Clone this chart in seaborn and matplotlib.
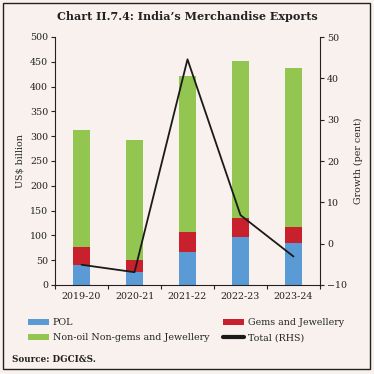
import matplotlib
matplotlib.use("Agg")
import matplotlib.pyplot as plt
import seaborn as sns
import numpy as np
import pandas as pd
from matplotlib.patches import Patch, Rectangle
from matplotlib.lines import Line2D
from matplotlib.ticker import MultipleLocator, FixedLocator

years = ["2019-20", "2020-21", "2021-22", "2022-23", "2023-24"]
pol = [41.3, 25.8, 67.5, 97.5, 84.2]
gems = [35.8, 25.4, 39.1, 38.0, 32.7]
non_oil = [235.9, 240.6, 315.4, 315.5, 320.1]
growth = [-5.1, -6.9, 44.6, 6.9, -3.1]

labels = ["POL", "Non-oil Non-gems and Jewellery", "Gems and Jewellery", "Total (RHS)"]
c_blue = "#5b9bd5"
c_red = "#c9202e"
c_green = "#92c650"
bg = "#f8f1ed"

sns.set_theme(style="white")
plt.rcParams["font.family"] = ["DejaVu Serif"]

df = pd.DataFrame({"year": years, "pol": pol, "gems": gems, "non_oil": non_oil, "growth": growth})
df["c1"] = df["pol"]
df["c2"] = df["pol"] + df["gems"]
df["c3"] = df["c2"] + df["non_oil"]

fig = plt.figure(figsize=(3.74, 3.74), dpi=100, facecolor=bg)
ax = fig.add_axes([55/374, 1-285/374, 265/374, 248/374])
ax.set_facecolor(bg)

bw = 0.32
for col, c in (("c3", c_green), ("c2", c_red), ("c1", c_blue)):
    sns.barplot(data=df, x="year", y=col, color=c, width=bw, ax=ax, saturation=1,
                errorbar=None, linewidth=0, edgecolor="none")

ax2 = ax.twinx()
sns.pointplot(data=df, x="year", y="growth", color="#1a1a1a", markers="", linewidth=1.3,
              errorbar=None, ax=ax2)

fs = 6.8
ax.set_ylim(0, 500)
ax.yaxis.set_major_locator(MultipleLocator(50))
ax2.set_ylim(-10, 50)
ax2.yaxis.set_major_locator(MultipleLocator(10))
ax.set_xlim(-0.5, 4.5)
ax2.set_xlim(-0.5, 4.5)

for a in (ax, ax2):
    for s in a.spines.values():
        s.set_visible(False)
    a.set_xlabel("")
    a.grid(False)

ax.spines["left"].set_visible(True)
ax.spines["bottom"].set_visible(True)
ax2.spines["right"].set_visible(True)
for s in (ax.spines["left"], ax.spines["bottom"], ax2.spines["right"]):
    s.set_color("#222222")
    s.set_linewidth(0.8)

ax.tick_params(axis="y", which="major", direction="out", length=3, width=0.8, color="#222222",
               labelsize=fs, pad=2, left=True)
ax2.tick_params(axis="y", which="major", direction="out", length=3, width=0.8, color="#222222",
                labelsize=fs, pad=2, right=True)
ax.xaxis.set_minor_locator(FixedLocator([-0.5, 0.5, 1.5, 2.5, 3.5, 4.5]))
ax.tick_params(axis="x", which="major", length=0, labelsize=fs, pad=5)
ax.tick_params(axis="x", which="minor", direction="out", length=3, width=0.8, color="#222222", bottom=True)
ax2.tick_params(axis="x", which="both", length=0)

ax.set_ylabel("US$ billion", fontsize=fs, labelpad=4)
ax2.set_ylabel("Growth (per cent)", fontsize=fs, labelpad=5)

for t in ax.get_xticklabels() + ax.get_yticklabels() + ax2.get_yticklabels():
    t.set_color("#222222")

fig.text(0.5, 1-17/374, "Chart II.7.4: India\u2019s Merchandise Exports", ha="center", va="center",
         fontsize=8.0, fontweight="bold", color="#222222")

handles = [Patch(facecolor=c_blue, edgecolor="none"),
           Patch(facecolor=c_green, edgecolor="none"),
           Patch(facecolor=c_red, edgecolor="none"),
           Line2D([0], [0], color="#1a1a1a", linewidth=3)]
leg = fig.legend(handles, labels, ncol=2, loc="upper left", bbox_to_anchor=(28/374, 1-318/374),
                 frameon=False, fontsize=fs, handlelength=2.2, handleheight=0.6, handletextpad=0.4,
                 columnspacing=1.5, labelspacing=0.65, borderpad=0, borderaxespad=0)

fig.text(12/374, 1-360/374, "Source: DGCI&S.", ha="left", va="center", fontsize=6.3,
         fontweight="bold", color="#222222")

fig.patches.append(Rectangle((3/374, 1-369/374), 367/374, 366/374, transform=fig.transFigure,
                             fill=False, edgecolor="#222222", linewidth=1.0))

fig.savefig("out.png", dpi=100, facecolor=bg)
